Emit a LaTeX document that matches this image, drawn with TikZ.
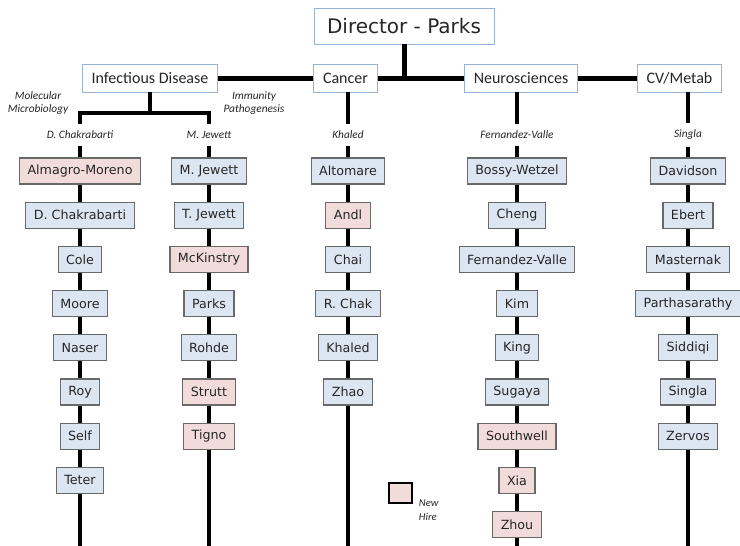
\documentclass[tikz,border=0pt]{standalone}
\usepackage{fontspec}
\newfontfamily\comicfont{DejaVu Sans}
\newfontfamily\deptfont{Carlito}

\definecolor{staffblue}{RGB}{220,230,242}
\definecolor{hirepink}{RGB}{242,220,219}
\definecolor{boxgrey}{RGB}{105,105,105}
\definecolor{deptblue}{RGB}{149,179,215}
\definecolor{inkgrey}{RGB}{38,38,38}

\tikzset{
  staff/.style={draw=boxgrey, fill=staffblue, line width=0.8pt, minimum height=19.5pt,
    inner xsep=6pt, inner ysep=0pt, text=inkgrey, font=\comicfont\fontsize{9.5}{11}\selectfont},
  newhire/.style={staff, fill=hirepink},
  dept/.style={draw=deptblue, fill=white, line width=0.7pt, minimum height=21pt,
    inner xsep=7pt, text=inkgrey, font=\deptfont\fontsize{12}{14}\selectfont},
  lead/.style={inner xsep=2pt, inner ysep=5pt, text=inkgrey,
    font=\deptfont\itshape\fontsize{8.5}{9.75}\selectfont},
  trunk/.style={line width=3.75pt},
  column/.style={line width=3pt},
}

\begin{document}
\begin{tikzpicture}[x=0.75pt,y=0.75pt,yscale=-1,xscale=1]
\useasboundingbox (0,0) rectangle (740,546);
\coordinate (fork) at (0,113);
\coordinate (floor) at (0,546);

% Director and departments
\node[dept, minimum width=135pt, minimum height=27pt, font=\comicfont\fontsize{15}{18}\selectfont] (dir) at (404,26) {Director - Parks};
\node[dept] (infect) at (150,78) {Infectious Disease};
\node[dept] (cancer) at (345.5,78) {Cancer};
\node[dept] (neuro) at (521,78) {Neurosciences};
\node[dept] (cvmet) at (679.5,78) {CV/Metab};

\draw[trunk] (dir.south) -- (dir.south |- cancer.west);
\draw[trunk] (infect.east) -- (cancer.west);
\draw[trunk] (cancer.east) -- (neuro.west);
\draw[trunk] (neuro.east) -- (cvmet.west);

% Text Node
\node[lead, align=center] (molbio) at (38,103.5) {Molecular\\Microbiology};
% Text Node
\node[lead, align=center] (immpath) at (254,103.5) {Immunity\\Pathogenesis};

% Group leads
\node[lead] (id1-0) at (80,135) {D. Chakrabarti};
\node[lead] (id2-0) at (209,135) {M. Jewett};
\node[lead] (id3-0) at (348,135) {Khaled};
\node[lead] (id4-0) at (517,135) {Fernandez-Valle};
\node[lead] (id5-0) at (688,135) {Singla};

\draw[column] (infect.south) -- (infect.south |- fork);
\draw[column] (id1-0.north) -- (id1-0.north |- fork) -- (id2-0.north |- fork) -- (id2-0.north);
\draw[column] (id3-0 |- cancer.south) -- (id3-0);
\draw[column] (id4-0 |- neuro.south) -- (id4-0);
\draw[column] (id5-0 |- cvmet.south) -- (id5-0);

% Staff boxes
\foreach \who/\kind [count=\i] in {Almagro-Moreno/newhire, D. Chakrabarti/staff, Cole/staff, Moore/staff, Naser/staff, Roy/staff, Self/staff, Teter/staff}{
  \pgfmathtruncatemacro\lasti{\i-1}
  \node[\kind] (id1-\i) at (80,{171+44.2*(\i-1)}) {\who};
  \draw[column] (id1-\lasti) -- (id1-\i);
}
\foreach \who/\kind [count=\i] in {M. Jewett/staff, T. Jewett/staff, McKinstry/newhire, Parks/staff, Rohde/staff, Strutt/newhire, Tigno/newhire}{
  \pgfmathtruncatemacro\lasti{\i-1}
  \node[\kind] (id2-\i) at (209,{171+44.2*(\i-1)}) {\who};
  \draw[column] (id2-\lasti) -- (id2-\i);
}
\foreach \who/\kind [count=\i] in {Altomare/staff, Andl/newhire, Chai/staff, R. Chak/staff, Khaled/staff, Zhao/staff}{
  \pgfmathtruncatemacro\lasti{\i-1}
  \node[\kind] (id3-\i) at (348,{171+44.2*(\i-1)}) {\who};
  \draw[column] (id3-\lasti) -- (id3-\i);
}
\foreach \who/\kind [count=\i] in {Bossy-Wetzel/staff, Cheng/staff, Fernandez-Valle/staff, Kim/staff, King/staff, Sugaya/staff, Southwell/newhire, Xia/newhire, Zhou/newhire}{
  \pgfmathtruncatemacro\lasti{\i-1}
  \node[\kind] (id4-\i) at (517,{171+44.2*(\i-1)}) {\who};
  \draw[column] (id4-\lasti) -- (id4-\i);
}
\foreach \who/\kind [count=\i] in {Davidson/staff, Ebert/staff, Masternak/staff, Parthasarathy/staff, Siddiqi/staff, Singla/staff, Zervos/staff}{
  \pgfmathtruncatemacro\lasti{\i-1}
  \node[\kind] (id5-\i) at (688,{171+44.2*(\i-1)}) {\who};
  \draw[column] (id5-\lasti) -- (id5-\i);
}

% Columns run on to the bottom edge
\draw[column] (id1-8) -- (id1-8 |- floor);
\draw[column] (id2-7) -- (id2-7 |- floor);
\draw[column] (id3-6) -- (id3-6 |- floor);
\draw[column] (id4-9) -- (id4-9 |- floor);
\draw[column] (id5-7) -- (id5-7 |- floor);

% Legend
\node[draw=black, fill=hirepink, line width=1.2pt, minimum width=17pt, minimum height=15pt, inner sep=0pt] (key) at (400.5,493) {};
\node[lead, align=left, anchor=west, inner ysep=0pt, font=\deptfont\itshape\fontsize{8}{10.5}\selectfont] (keytext) at (416,510) {New\\Hire};

\end{tikzpicture}
\end{document}
